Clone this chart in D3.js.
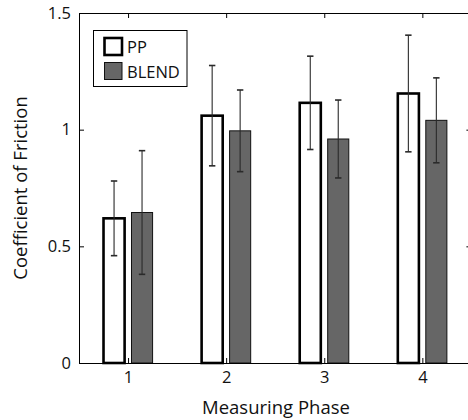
<!DOCTYPE html>
<html><head><meta charset="utf-8">
<script src="https://cdn.jsdelivr.net/npm/d3@7"></script>
<style>body{margin:0;background:#fff;overflow:hidden}svg{display:block}text{font-family:"Open Sans",sans-serif;fill:#111}</style>
</head><body><svg id="c" width="468" height="420"></svg>
<script>
const phases = [1, 2, 3, 4];
const seriesNames = ["PP", "BLEND"];
const ppMeans = [0.62, 1.06, 1.115, 1.155];
const ppSD = [0.16, 0.215, 0.2, 0.25];
const blendMeans = [0.645, 0.995, 0.96, 1.04];
const blendSD = [0.265, 0.175, 0.167, 0.182];
const yTicks = [0, 0.5, 1, 1.5];
const xLabel = "Measuring Phase";
const yLabel = "Coefficient of Friction";

const svg = d3.select("#c");
const x = d3.scaleLinear().domain([0.5, 4.5]).range([79, 471.4]);
const y = d3.scaleLinear().domain([0, 1.5]).range([363, 13]);
const off = 0.1426, bw = 0.215;

const series = [
  {name: seriesNames[0], means: ppMeans, sd: ppSD, shift: -off, fill: "#fff", stroke: "#000", sw: 2.6},
  {name: seriesNames[1], means: blendMeans, sd: blendSD, shift: off, fill: "#666666", stroke: "#111", sw: 1}
];

series.forEach(s => {
  const g = svg.append("g");
  g.selectAll("rect").data(phases).join("rect")
    .attr("x", (p) => x(p + s.shift - bw / 2))
    .attr("width", x(bw) - x(0))
    .attr("y", (p, i) => y(s.means[i]))
    .attr("height", (p, i) => y(0) - y(s.means[i]))
    .attr("fill", s.fill).attr("stroke", s.stroke).attr("stroke-width", s.sw);
});

series.forEach(s => {
  const g = svg.append("g").attr("stroke", "#2a2a2a").attr("stroke-width", 1.1);
  phases.forEach((p, i) => {
    const cx = x(p + s.shift);
    const hi = y(s.means[i] + s.sd[i]), lo = y(s.means[i] - s.sd[i]);
    g.append("line").attr("x1", cx).attr("x2", cx).attr("y1", hi).attr("y2", lo);
    g.append("line").attr("x1", cx - 3.2).attr("x2", cx + 3.2).attr("y1", hi).attr("y2", hi).attr("stroke-width", 1.6);
    g.append("line").attr("x1", cx - 3.2).attr("x2", cx + 3.2).attr("y1", lo).attr("y2", lo).attr("stroke-width", 1.6);
  });
});

// axes
const tl = 5;
svg.append("g").attr("transform", `translate(0,${y(0)})`)
  .call(d3.axisBottom(x).tickValues(phases).tickFormat(d3.format("d")).tickSizeInner(-tl).tickSizeOuter(0).tickPadding(8.5));
svg.append("g").attr("transform", `translate(0,${y(1.5)})`)
  .call(d3.axisTop(x).tickValues(phases).tickFormat("").tickSizeInner(-tl).tickSizeOuter(0));
svg.append("g").attr("transform", `translate(${x(0.5)},0)`)
  .call(d3.axisLeft(y).tickValues(yTicks).tickFormat(d => d3.format("")(d)).tickSizeInner(-tl).tickSizeOuter(0).tickPadding(8));
svg.append("g").attr("transform", `translate(${x(4.5)},0)`)
  .call(d3.axisRight(y).tickValues(yTicks).tickFormat("").tickSizeInner(-tl).tickSizeOuter(0));
svg.selectAll(".tick text").attr("font-size", 16.5).attr("font-family", "Open Sans").attr("fill", "#111");
svg.selectAll(".domain, .tick line").attr("stroke", "#000");

svg.append("text").attr("x", 276).attr("y", 414).attr("text-anchor", "middle").attr("font-size", 18.5).text(xLabel);
svg.append("text").attr("transform", `translate(27,${(y(0) + y(1.5)) / 2}) rotate(-90)`).attr("text-anchor", "middle").attr("font-size", 18.5).text(yLabel);

// legend
const lg = svg.append("g");
lg.append("rect").attr("x", 93.5).attr("y", 30.5).attr("width", 93.5).attr("height", 56).attr("fill", "#fff").attr("stroke", "#000").attr("stroke-width", 1);
series.forEach((s, i) => {
  const yy = 38 + i * 24.5;
  lg.append("rect").attr("x", 104.5).attr("y", yy).attr("width", 17.5).attr("height", 17)
    .attr("fill", s.fill).attr("stroke", s.stroke).attr("stroke-width", s.sw);
  lg.append("text").attr("x", 127).attr("y", yy + 15).attr("font-size", 16.5).text(s.name);
});
</script></body></html>
